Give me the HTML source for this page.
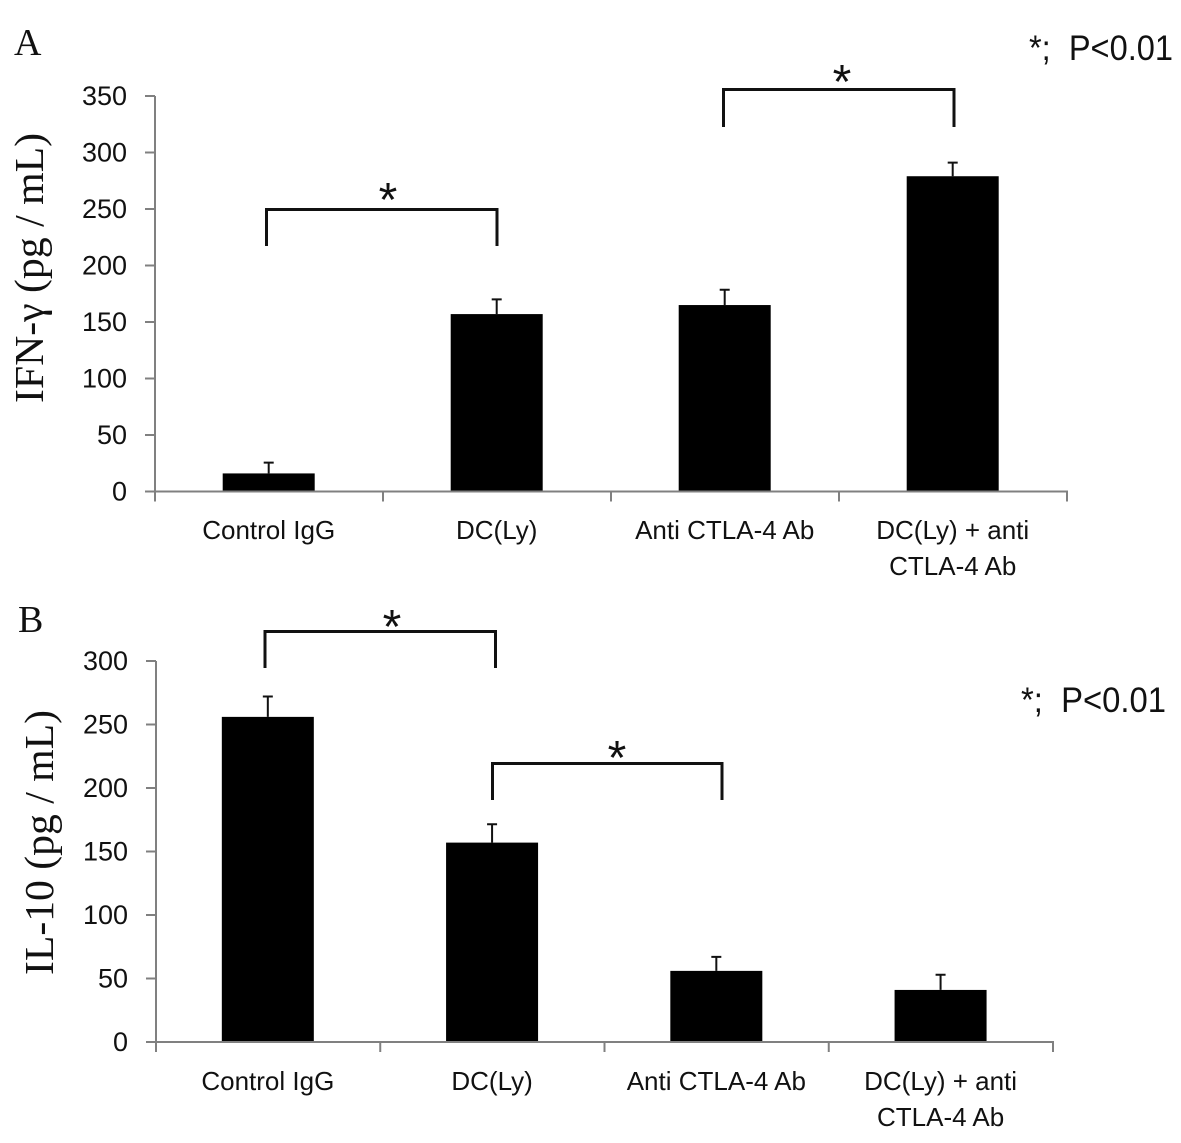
<!DOCTYPE html>
<html>
<head>
<meta charset="utf-8">
<title>IFN-γ and IL-10 bar charts</title>
<style>
html,body{margin:0;padding:0;background:#fff;width:1181px;height:1143px;overflow:hidden}
svg{display:block}
text{fill:#111}
.tick{font-family:"Liberation Sans",sans-serif;font-size:27px}
.cat{font-family:"Liberation Sans",sans-serif;font-size:26px}
.title{font-family:"Liberation Serif",serif;font-size:41px}
.panel{font-family:"Liberation Serif",serif;font-size:38px}
.pnote{font-family:"Liberation Sans",sans-serif;font-size:35px;white-space:pre}
.star{font-family:"Liberation Sans",sans-serif;font-size:48px}
</style>
</head>
<body>
<svg id="figure" width="1181" height="1143" viewBox="0 0 1181 1143" xmlns="http://www.w3.org/2000/svg">
  <text class="panel" x="14" y="55">A</text>
  <text class="panel" x="18" y="632">B</text>
  <text class="title" transform="translate(43,403) rotate(-90)" textLength="270" lengthAdjust="spacingAndGlyphs">IFN-γ (pg / mL)</text>
  <text class="title" transform="translate(53,975) rotate(-90)" textLength="265" lengthAdjust="spacingAndGlyphs">IL-10 (pg / mL)</text>
  <text class="pnote" x="1029" y="60" textLength="144" lengthAdjust="spacingAndGlyphs">*;  P&lt;0.01</text>
  <text class="pnote" x="1021" y="712" textLength="145" lengthAdjust="spacingAndGlyphs">*;  P&lt;0.01</text>

  <path d="M266.500 246V209.500H497V246" fill="none" stroke="#111" stroke-width="3"/>
  <path d="M723.500 127V89.500H954V127" fill="none" stroke="#111" stroke-width="3"/>
  <path d="M265 668V631.500H495.500V668" fill="none" stroke="#111" stroke-width="3"/>
  <path d="M492.500 800V763.500H722V800" fill="none" stroke="#111" stroke-width="3"/>
  <text class="star" x="388" y="216" text-anchor="middle">*</text>
  <text class="star" x="842" y="98" text-anchor="middle">*</text>
  <text class="star" x="392" y="643" text-anchor="middle">*</text>
  <text class="star" x="617" y="774" text-anchor="middle">*</text>
</svg>
<script>
var categoriesA = [["Control IgG"], ["DC(Ly)"], ["Anti CTLA-4 Ab"], ["DC(Ly) + anti", "CTLA-4 Ab"]];
var valuesA = [16, 157, 165, 279];
var errorTopsA = [25.5, 170, 178.5, 291];
var ticksA = [0, 50, 100, 150, 200, 250, 300, 350];

var categoriesB = [["Control IgG"], ["DC(Ly)"], ["Anti CTLA-4 Ab"], ["DC(Ly) + anti", "CTLA-4 Ab"]];
var valuesB = [256, 157, 56, 41];
var errorTopsB = [272, 171.5, 67, 53];
var ticksB = [0, 50, 100, 150, 200, 250, 300];

var NS = 'http://www.w3.org/2000/svg';
var svg = document.getElementById('figure');

function make(tag, attrs, parent) {
  var el = document.createElementNS(NS, tag);
  for (var k in attrs) el.setAttribute(k, attrs[k]);
  parent.appendChild(el);
  return el;
}

function drawChart(id, cats, vals, errs, ticks, g) {
  var group = make('g', {}, svg);
  
  
  var maxTick = ticks[ticks.length - 1];
  var y = function (v) { return g.y0 - v / maxTick * (g.y0 - g.y1); };
  var band = (g.x1 - g.x0) / cats.length;
  var x = function (i) { return g.x0 + band * (i + 0.5) + g.shift; };

  vals.forEach(function (v, i) {
    var cx = x(i);
    var cap = make('path', { d: 'M' + (cx - 5) + ' ' + y(errs[i]) + 'H' + (cx + 5) + 'M' + cx + ' ' + y(errs[i]) + 'V' + y(v), stroke: '#111', 'stroke-width': 2, fill: 'none' }, group);
    
    
    var bar = make('rect', { x: cx - g.barW / 2, y: y(v), width: g.barW, height: g.y0 - y(v), fill: '#000' }, group);
    
    
  });

  var yAxis = make('line', { x1: g.x0, x2: g.x0, y1: y(maxTick), y2: g.y0 + 10, stroke: '#808080', 'stroke-width': 2 }, group);
  
  
  var xAxis = make('line', { x1: g.x0 - 10, x2: g.x1 + 1, y1: g.y0, y2: g.y0, stroke: '#808080', 'stroke-width': 2 }, group);
  
  

  ticks.forEach(function (t) {
    var mark = make('line', { x1: g.x0 - 10, x2: g.x0, y1: y(t), y2: y(t), stroke: '#808080', 'stroke-width': 2 }, group);
    
    
    var label = make('text', { x: g.x0 - 28, y: y(t) + 9, 'text-anchor': 'end', 'class': 'tick' }, group);
    
    
    label.textContent = t;
  });

  for (var i = 0; i <= cats.length; i++) {
    var tx = g.x0 + band * i;
    var xt = make('line', { x1: tx, x2: tx, y1: g.y0, y2: g.y0 + 10, stroke: '#808080', 'stroke-width': 2 }, group);
    
    
  }

  cats.forEach(function (lines, i) {
    lines.forEach(function (line, j) {
      var cl = make('text', { x: x(i), y: g.labelY + j * 36, 'text-anchor': 'middle', 'class': 'cat' }, group);
      
      
      cl.textContent = line;
    });
  });
}

drawChart('a', categoriesA, valuesA, errorTopsA, ticksA, { x0: 155, x1: 1067, y0: 491.5, y1: 96, barW: 92, shift: -0.3, labelY: 539 });
drawChart('b', categoriesB, valuesB, errorTopsB, ticksB, { x0: 156, x1: 1053, y0: 1042, y1: 661, barW: 92, shift: -0.3, labelY: 1090 });
</script>
</body>
</html>
